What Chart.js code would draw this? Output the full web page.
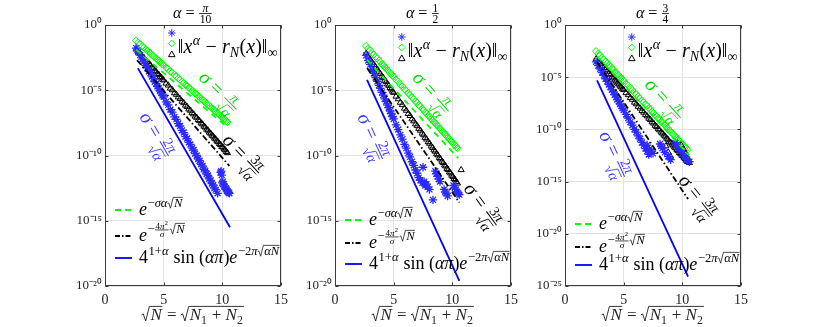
<!DOCTYPE html>
<html>
<head>
<meta charset="utf-8">
<script src="https://cdn.jsdelivr.net/npm/chart.js@4.4.0/dist/chart.umd.min.js"></script>
<style>
  html, body { margin: 0; padding: 0; background: #fff; }
  #wrap { position: relative; width: 817px; height: 327px; overflow: hidden; }
  canvas { position: absolute; top: 0; }
</style>
</head>
<body>
<div id="wrap">
  <canvas id="c1" width="270" height="327" style="left:30px"></canvas>
  <canvas id="c2" width="230" height="327" style="left:300px"></canvas>
  <canvas id="c3" width="287" height="327" style="left:530px"></canvas>
</div>
<script>
// sqrt(N) positions of the error samples (shared by all panels)
const sqrtN = [2.65, 2.83, 3.00, 3.16, 3.32, 3.46, 3.61, 3.74, 3.87, 4.00, 4.12, 4.24, 4.36, 4.47, 4.58, 4.69, 4.80, 4.90, 5.00, 5.20,
  5.39, 5.57, 5.74, 5.92, 6.08, 6.24, 6.40, 6.56, 6.71, 6.86, 7.00, 7.14, 7.28, 7.42, 7.55, 7.68, 7.81, 7.94, 8.06, 8.19,
  8.31, 8.43, 8.54, 8.66, 8.77, 8.89, 9.00, 9.11, 9.22, 9.33, 9.43, 9.54, 9.64, 9.75, 9.85, 9.95, 10.05, 10.15, 10.25, 10.34, 10.44];
const xTicks = [0, 5, 10, 15];

// log10 of the max error, alpha = pi/10
const logDiamond1 = [-1.20, -1.36, -1.46, -1.63, -1.72, -1.87, -1.95, -2.09, -2.16, -2.30, -2.36, -2.49, -2.55, -2.68, -2.72, -2.85, -2.90, -3.02, -3.06, -3.26,
  -3.37, -3.56, -3.65, -3.84, -3.92, -4.09, -4.18, -4.35, -4.43, -4.59, -4.66, -4.81, -4.88, -5.04, -5.10, -5.24, -5.31, -5.45, -5.51, -5.65,
  -5.71, -5.84, -5.89, -6.03, -6.08, -6.21, -6.26, -6.39, -6.44, -6.56, -6.60, -6.73, -6.77, -6.90, -6.94, -7.06, -7.10, -7.22, -7.26, -7.37, -7.43];
const logTriangle1 = [-1.85, -2.05, -2.19, -2.39, -2.51, -2.70, -2.81, -2.98, -3.07, -3.25, -3.33, -3.49, -3.57, -3.73, -3.80, -3.95, -4.02, -4.17, -4.23, -4.47,
  -4.62, -4.85, -4.98, -5.21, -5.33, -5.53, -5.66, -5.86, -5.97, -6.16, -6.27, -6.45, -6.55, -6.74, -6.83, -7.00, -7.09, -7.27, -7.35, -7.52,
  -7.60, -7.77, -7.84, -8.00, -8.07, -8.23, -8.31, -8.46, -8.53, -8.68, -8.75, -8.90, -8.96, -9.11, -9.17, -9.32, -9.38, -9.52, -9.58, -9.71, -9.80];
const logStar1 = [-1.77, -2.08, -2.31, -2.62, -2.82, -3.10, -3.28, -3.55, -3.69, -3.97, -4.09, -4.35, -4.48, -4.72, -4.83, -5.07, -5.18, -5.41, -5.50, -5.89,
  -6.12, -6.48, -6.68, -7.04, -7.23, -7.55, -7.74, -8.07, -8.24, -8.55, -8.70, -8.99, -9.15, -9.44, -9.58, -9.86, -10.00, -10.27, -10.40, -10.67,
  -10.80, -11.06, -11.16, -11.43, -11.53, -11.79, -11.90, -12.15, -12.25, -12.50, -12.62];
const starExtraX1 = [9.60, 9.85, 9.90, 9.95, 10.00, 10.05, 10.10, 10.15, 10.20, 10.30, 10.35, 10.40, 10.45, 10.50, 10.55, 10.60];
const logStarExtra1 = [-12.9, -11.3, -11.2, -11.5, -12.1, -12.0, -12.2, -12.35, -12.4, -12.5, -12.6, -12.7, -12.75, -12.8, -12.85, -12.9];
const greenX1 = [2.65, 10.5], greenY1 = [1.3e-2, 1.3e-8];
const blackX1 = [2.73, 10.6], blackY1 = [2e-3, 1.6e-11];
const blueX1 = [2.8, 10.65], blueY1 = [5e-4, 3.2e-16];

// log10 of the max error, alpha = 1/2
const logDiamond2 = [-1.61, -1.81, -1.94, -2.14, -2.26, -2.44, -2.55, -2.73, -2.82, -2.99, -3.07, -3.23, -3.31, -3.46, -3.53, -3.68, -3.75, -3.89, -3.95, -4.19,
  -4.34, -4.56, -4.70, -4.92, -5.04, -5.24, -5.36, -5.56, -5.67, -5.86, -5.96, -6.14, -6.24, -6.42, -6.51, -6.69, -6.78, -6.95, -7.03, -7.20,
  -7.28, -7.44, -7.51, -7.67, -7.74, -7.90, -7.97, -8.12, -8.19, -8.34, -8.40, -8.55, -8.61, -8.77, -8.83, -8.97, -9.03, -9.17, -9.23, -9.36, -9.44];
const logTriangle2 = [-2.20, -2.45, -2.63, -2.87, -3.03, -3.25, -3.40, -3.61, -3.74, -3.94, -4.05, -4.25, -4.36, -4.54, -4.64, -4.82, -4.92, -5.09, -5.18, -5.47,
  -5.67, -5.94, -6.12, -6.39, -6.55, -6.80, -6.96, -7.21, -7.36, -7.59, -7.73, -7.94, -8.08, -8.30, -8.43, -8.63, -8.76, -8.96, -9.08, -9.28,
  -9.40, -9.59, -9.69, -9.88, -9.98, -10.18, -10.28, -10.46, -10.56, -10.74, -10.82, -11.00, -11.09, -11.27, -11.36, -11.53, -11.62, -11.78, -11.87, -12.02, -12.13];
const triExtraX2 = [10.75];
const logTriExtra2 = [-11.1];
const logStar2 = [-2.33, -2.72, -3.04, -3.41, -3.70, -4.03, -4.31, -4.62, -4.85, -5.16, -5.37, -5.66, -5.87, -6.14, -6.32, -6.59, -6.78, -7.03, -7.20, -7.65,
  -8.01, -8.42, -8.74, -9.15, -9.44, -9.82, -10.11, -10.48, -10.75, -11.11, -11.36, -11.69];
const starExtraX2 = [7.28, 7.45, 7.50, 7.60, 7.70, 7.80, 7.90, 8.05, 8.35, 8.55, 8.65, 8.75, 8.85, 8.95, 9.30, 9.40, 9.50, 9.60,
  10.10, 10.20, 10.30, 10.40, 10.50, 10.60];
const logStarExtra2 = [-11.9, -12.1, -10.9, -12.0, -12.3, -12.2, -12.4, -12.6, -13.4, -11.2, -11.4, -11.6, -11.8, -12.0, -12.6, -12.8, -12.9, -13.1,
  -12.3, -12.5, -12.6, -12.8, -12.9, -13.0];
const greenX2 = [2.73, 10.5], greenY2 = [2.2e-3, 6.3e-11];
const blackX2 = [2.73, 10.6], blackY2 = [5e-4, 2.5e-14];
const blueX2 = [2.73, 10.6], blueY2 = [6.3e-5, 2.5e-20];

// log10 of the max error, alpha = 3/4
const logDiamond3 = [-2.51, -2.75, -2.91, -3.15, -3.30, -3.51, -3.65, -3.85, -3.97, -4.16, -4.27, -4.45, -4.56, -4.73, -4.83, -5.00, -5.09, -5.25, -5.33, -5.62,
  -5.81, -6.06, -6.23, -6.49, -6.64, -6.87, -7.03, -7.26, -7.40, -7.62, -7.75, -7.96, -8.09, -8.30, -8.42, -8.62, -8.73, -8.93, -9.04, -9.23,
  -9.34, -9.52, -9.62, -9.80, -9.90, -10.08, -10.17, -10.35, -10.44, -10.61, -10.69, -10.87, -10.95, -11.12, -11.20, -11.36, -11.44, -11.61, -11.69, -11.83, -11.94];
const logTriangle3 = [-3.27, -3.52, -3.69, -3.93, -4.09, -4.31, -4.46, -4.66, -4.79, -4.99, -5.10, -5.29, -5.40, -5.58, -5.68, -5.86, -5.96, -6.13, -6.21, -6.50,
  -6.70, -6.97, -7.14, -7.41, -7.57, -7.81, -7.98, -8.22, -8.37, -8.59, -8.73, -8.95, -9.08, -9.30, -9.42, -9.63, -9.75, -9.96, -10.07, -10.27,
  -10.38, -10.57, -10.67, -10.86, -10.96, -11.15, -11.25, -11.43, -11.53, -11.71, -11.79, -11.97, -12.06, -12.24, -12.32, -12.49, -12.57, -12.74, -12.83, -12.98, -13.09];
const triExtraX3 = [8.6, 8.8, 9.0, 9.9, 10.1, 10.3, 10.5, 10.6];
const logTriExtra3 = [-11.6, -12.2, -12.6, -11.5, -11.9, -12.3, -12.8, -13.2];
const logStar3 = [-3.53, -3.90, -4.20, -4.55, -4.83, -5.15, -5.40, -5.70, -5.91, -6.21, -6.41, -6.68, -6.88, -7.14, -7.31, -7.57, -7.75, -7.98, -8.14, -8.57,
  -8.91, -9.30, -9.60, -9.99, -10.27, -10.62, -10.90, -11.25, -11.51, -11.84, -12.08, -12.40];
const starExtraX3 = [7.0, 7.2, 7.35, 7.5, 8.1, 8.2, 8.3, 8.5, 8.8, 9.0, 9.4, 9.5, 9.6, 9.8, 10.0, 10.2, 10.4, 10.6];
const logStarExtra3 = [-11.5, -11.9, -12.1, -12.3, -11.4, -11.6, -11.8, -12.2, -12.6, -12.9, -11.3, -11.5, -11.7, -12.0, -12.3, -12.6, -12.9, -13.1];
const greenX3 = [2.73, 10.6], greenY3 = [1e-3, 3.2e-13];
const blackX3 = [2.73, 10.49], blackY3 = [2.9e-4, 2.1e-17];
const blueX3 = [2.73, 10.49], blueY3 = [5e-6, 7.9e-25];

const yTicks20 = [1, 1e-5, 1e-10, 1e-15, 1e-20];
const yTicks25 = [1, 1e-5, 1e-10, 1e-15, 1e-20, 1e-25];

const GREEN = '#00ff00', BLUE = '#0000ff', STARBLUE = '#2b2bff', NOTEBLUE = '#3c3cff';
const GRID = '#e3e3e3', AXIS = '#3a3a3a', TXT = '#262626';
const SERIF = '"Liberation Serif", "Times New Roman", serif';

const pairs = (xs, ys) => ys.map((y, i) => ({ x: xs[i], y }));
const logPairs = (xs, es) => es.map((e, i) => ({ x: xs[i], y: Math.pow(10, e) }));
const SUP = { '-': '⁻', '0': '⁰', '1': '¹', '2': '²', '3': '³', '4': '⁴', '5': '⁵', '6': '⁶', '7': '⁷', '8': '⁸', '9': '⁹' };
const supNum = n => String(n).split('').map(c => SUP[c]).join('');
const I = s => ({ i: s });

// tiny math-text renderer: strings upright, {i} italic, {sup}, {sub}, {sqrt}, {frac}
function rich(ctx, parts, x, y, size, draw) {
  let w = 0;
  for (const p of parts) {
    if (typeof p === 'string' || p.i !== undefined) {
      const txt = typeof p === 'string' ? p : p.i;
      ctx.font = (typeof p === 'string' ? '' : 'italic ') + size + 'px ' + SERIF;
      if (draw) ctx.fillText(txt, x + w, y);
      w += ctx.measureText(txt).width;
    } else if (p.sup) {
      w += rich(ctx, p.sup, x + w + size * 0.03, y - size * 0.42, size * 0.7, draw) + size * 0.05;
    } else if (p.sub) {
      w += rich(ctx, p.sub, x + w, y + size * 0.22, size * 0.7, draw) + size * 0.03;
    } else if (p.sqrt) {
      const rw = size * 0.52;
      const iw = rich(ctx, p.sqrt, x + w + rw, y, size, draw);
      if (draw) {
        const x0 = x + w;
        ctx.lineWidth = Math.max(0.7, size * 0.055);
        ctx.beginPath();
        ctx.moveTo(x0, y - size * 0.3);
        ctx.lineTo(x0 + size * 0.1, y - size * 0.36);
        ctx.lineTo(x0 + size * 0.24, y + size * 0.06);
        ctx.lineTo(x0 + size * 0.46, y - size * 0.8);
        ctx.lineTo(x0 + rw + iw + size * 0.03, y - size * 0.8);
        ctx.stroke();
      }
      w += rw + iw + size * 0.06;
    } else if (p.frac) {
      const fs = size * 0.72;
      const nw = rich(ctx, p.frac[0], 0, 0, fs, false);
      const dw = rich(ctx, p.frac[1], 0, 0, fs, false);
      const fw = Math.max(nw, dw) + size * 0.14;
      const ax = y - size * 0.28;
      const deep = p.frac[1].some(q => q && q.sqrt);
      if (draw) {
        rich(ctx, p.frac[0], x + w + (fw - nw) / 2, ax - size * 0.1, fs, true);
        rich(ctx, p.frac[1], x + w + (fw - dw) / 2, ax + size * 0.06 + fs * (deep ? 0.92 : 0.72), fs, true);
        ctx.lineWidth = Math.max(0.7, size * 0.05);
        ctx.beginPath();
        ctx.moveTo(x + w + size * 0.04, ax);
        ctx.lineTo(x + w + fw - size * 0.04, ax);
        ctx.stroke();
      }
      w += fw + size * 0.04;
    }
  }
  return w;
}

const normText = ['‖', I('x'), { sup: [I('α')] }, ' − ', I('r'), { sub: [I('N')] }, '(', I('x'), ')‖', { sub: ['∞'] }];
const legText = [
  [I('e'), { sup: ['−', I('σα'), { sqrt: [I('N')] }] }],
  [I('e'), { sup: ['−', { frac: [['4', I('π'), { sup: ['2'] }], [I('σ')]] }, { sqrt: [I('N')] }] }],
  ['4', { sup: ['1+', I('α')] }, ' sin', ' (', I('απ'), ')', I('e'), { sup: ['−2', I('π'), { sqrt: [I('αN')] }] }]
];
const xTitle = [{ sqrt: [I('N')] }, ' = ', { sqrt: [I('N'), { sub: ['1'] }, ' + ', I('N'), { sub: ['2'] }] }];
const sigmaNote = num => [I('σ'), ' = ', { frac: [[num, I('π')], [{ sqrt: [I('α')] }]] }];

function marker(ctx, style, cx, cy, r) {
  ctx.beginPath();
  if (style === 'rectRot') {
    ctx.moveTo(cx, cy - r); ctx.lineTo(cx + r, cy); ctx.lineTo(cx, cy + r); ctx.lineTo(cx - r, cy); ctx.closePath();
  } else if (style === 'triangle') {
    ctx.moveTo(cx, cy - r); ctx.lineTo(cx + r * 0.9, cy + r * 0.6); ctx.lineTo(cx - r * 0.9, cy + r * 0.6); ctx.closePath();
  } else {
    for (let k = 0; k < 4; k++) {
      const a = k * Math.PI / 4;
      ctx.moveTo(cx - r * Math.cos(a), cy - r * Math.sin(a));
      ctx.lineTo(cx + r * Math.cos(a), cy + r * Math.sin(a));
    }
  }
  ctx.stroke();
}

function decor(p) {
  return {
    id: 'decor',
    afterDraw(chart) {
      const { ctx, chartArea: a } = chart;
      const sx = chart.scales.x, sy = chart.scales.y;
      ctx.save();
      ctx.textAlign = 'left';
      ctx.textBaseline = 'alphabetic';

      // box with inward ticks
      ctx.strokeStyle = AXIS;
      ctx.lineWidth = 1;
      const L = Math.round(a.left) + 0.5, R = Math.round(a.right) - 0.5, T = Math.round(a.top) + 0.5, B = Math.round(a.bottom) - 0.5;
      ctx.strokeRect(L, T, R - L, B - T);
      ctx.beginPath();
      xTicks.forEach(v => {
        const px = Math.round(sx.getPixelForValue(v)) + 0.5;
        ctx.moveTo(px, B); ctx.lineTo(px, B - 3);
        ctx.moveTo(px, T); ctx.lineTo(px, T + 3);
      });
      p.yTicks.forEach(v => {
        const py = Math.round(sy.getPixelForValue(v)) + 0.5;
        ctx.moveTo(L, py); ctx.lineTo(L + 3, py);
        ctx.moveTo(R, py); ctx.lineTo(R - 3, py);
      });
      ctx.stroke();

      // title and x-axis title
      ctx.fillStyle = ctx.strokeStyle = '#000';
      const cx = (a.left + a.right) / 2;
      let w = rich(ctx, p.title, 0, 0, 16, false);
      rich(ctx, p.title, cx - w / 2, 18, 16, true);
      ctx.fillStyle = ctx.strokeStyle = TXT;
      w = rich(ctx, xTitle, 0, 0, 17, false);
      rich(ctx, xTitle, cx - w / 2, 320, 17, true);

      // rotated sigma annotations
      p.notes.forEach(n => {
        const px = sx.getPixelForValue(n.x), py = sy.getPixelForValue(n.y);
        const parts = sigmaNote(n.num);
        ctx.fillStyle = ctx.strokeStyle = n.color;
        const nw = rich(ctx, parts, 0, 0, 20, false);
        ctx.save();
        ctx.translate(px, py);
        ctx.rotate(n.angle * Math.PI / 180);
        rich(ctx, parts, -nw / 2, 6, 20, true);
        ctx.restore();
      });

      // marker legend (top right)
      ctx.fillStyle = ctx.strokeStyle = '#000';
      w = rich(ctx, normText, 0, 0, 20, false);
      const tx = a.right - 3 - w, ty = a.top + p.legTop;
      rich(ctx, normText, tx, ty + 20, 20, true);
      ctx.lineWidth = 1;
      ctx.strokeStyle = STARBLUE; marker(ctx, 'star', tx - 6, ty, 3.8);
      ctx.strokeStyle = GREEN; marker(ctx, 'rectRot', tx - 6, ty + 10.5, 3.4);
      ctx.strokeStyle = '#000'; marker(ctx, 'triangle', tx - 6, ty + 21.5, 3.6);

      // line legend (bottom left)
      const styles = [[GREEN, [6, 4]], ['#000', [5, 2, 1.5, 2]], [BLUE, []]];
      styles.forEach((s, k) => {
        const ry = a.top + p.legRows[k];
        ctx.strokeStyle = s[0];
        ctx.lineWidth = 1.8;
        ctx.setLineDash(s[1]);
        ctx.beginPath(); ctx.moveTo(a.left + 10, ry); ctx.lineTo(a.left + 27, ry); ctx.stroke();
        ctx.setLineDash([]);
        ctx.fillStyle = ctx.strokeStyle = '#000';
        rich(ctx, legText[k], a.left + 34, ry + 5, 18, true);
      });
      ctx.restore();
    }
  };
}

function makePanel(p) {
  const markerSet = (data, style, color, r, bw, order) => ({
    data, showLine: false, pointStyle: style, pointRadius: r, pointBorderWidth: bw,
    borderColor: color, backgroundColor: 'rgba(0,0,0,0)', order
  });
  const lineSet = (data, color, dash, order) => ({
    data, showLine: true, borderColor: color, borderWidth: 1.8, borderDash: dash, pointRadius: 0, order
  });
  new Chart(document.getElementById(p.id), {
    type: 'scatter',
    data: {
      datasets: [
        lineSet(pairs(p.blueX, p.blueY), BLUE, [], 0),
        lineSet(pairs(p.blackX, p.blackY), '#000', [6, 2.5, 1.5, 2.5], 0),
        lineSet(pairs(p.greenX, p.greenY), GREEN, [6, 5], 0),
        markerSet(logPairs(sqrtN, p.star).concat(logPairs(p.starExtraX, p.starExtra)), 'star', STARBLUE, 4.2, 1.3, 1),
        markerSet(logPairs(sqrtN, p.triangle).concat(logPairs(p.triExtraX, p.triExtra)), 'triangle', '#000', 3.5, 1, 2),
        markerSet(logPairs(sqrtN, p.diamond), 'rectRot', GREEN, 3.6, 1, 3)
      ]
    },
    options: {
      responsive: false,
      animation: false,
      events: [],
      layout: { padding: { left: p.padLeft, top: 25, right: p.padRight, bottom: 0 } },
      plugins: { legend: { display: false }, tooltip: { enabled: false } },
      scales: {
        x: {
          type: 'linear', min: 0, max: 15,
          afterFit: s => { s.height = 41; },
          afterBuildTicks: s => { s.ticks = xTicks.map(v => ({ value: v })); },
          ticks: { autoSkip: false, maxRotation: 0, padding: 6, color: TXT, font: { family: SERIF, size: 14 } },
          grid: { color: GRID, drawTicks: false },
          border: { display: false }
        },
        y: {
          type: 'logarithmic', min: p.yTicks[p.yTicks.length - 1], max: 1,
          afterFit: s => { s.width = 35; },
          afterBuildTicks: s => { s.ticks = p.yTicks.map(v => ({ value: v })); },
          ticks: {
            autoSkip: false, padding: 3, color: TXT, font: { family: SERIF, size: 13 },
            callback: v => '10' + supNum(Math.round(Math.log10(v)))
          },
          grid: { color: GRID, drawTicks: false },
          border: { display: false }
        }
      }
    },
    plugins: [decor(p)]
  });
}

makePanel({
  id: 'c1', padLeft: 40, padRight: 19, yTicks: yTicks20,
  title: [I('α'), ' = ', { frac: [[I('π')], ['10']] }],
  diamond: logDiamond1, triangle: logTriangle1, triExtraX: [], triExtra: [],
  star: logStar1, starExtraX: starExtraX1, starExtra: logStarExtra1,
  greenX: greenX1, greenY: greenY1, blackX: blackX1, blackY: blackY1, blueX: blueX1, blueY: blueY1,
  legTop: 8, legRows: [185, 211, 233],
  notes: [
    { x: 9.8, y: 7e-6, angle: 45, color: '#00dd00', num: '' },
    { x: 4.43, y: 3.5e-9, angle: 60, color: NOTEBLUE, num: '2' },
    { x: 11.77, y: 1e-10, angle: 47, color: '#000', num: '3' }
  ]
});
makePanel({
  id: 'c2', padLeft: 0, padRight: 19, yTicks: yTicks20,
  title: [I('α'), ' = ', { frac: [['1'], ['2']] }],
  diamond: logDiamond2, triangle: logTriangle2, triExtraX: triExtraX2, triExtra: logTriExtra2,
  star: logStar2, starExtraX: starExtraX2, starExtra: logStarExtra2,
  greenX: greenX2, greenY: greenY2, blackX: blackX2, blackY: blackY2, blueX: blueX2, blueY: blueY2,
  legTop: 12, legRows: [195, 218, 239],
  notes: [
    { x: 8.35, y: 5.9e-6, angle: 48, color: '#00dd00', num: '' },
    { x: 3.24, y: 2.5e-9, angle: 65, color: NOTEBLUE, num: '2' },
    { x: 12.6, y: 1.4e-14, angle: 54, color: '#000', num: '3' }
  ]
});
makePanel({
  id: 'c3', padLeft: 0, padRight: 76, yTicks: yTicks25,
  title: [I('α'), ' = ', { frac: [['3'], ['4']] }],
  diamond: logDiamond3, triangle: logTriangle3, triExtraX: triExtraX3, triExtra: logTriExtra3,
  star: logStar3, starExtraX: starExtraX3, starExtra: logStarExtra3,
  greenX: greenX3, greenY: greenY3, blackX: blackX3, blackY: blackY3, blueX: blueX3, blueY: blueY3,
  legTop: 12, legRows: [199, 222, 240],
  notes: [
    { x: 8.53, y: 6.6e-8, angle: 48, color: '#00dd00', num: '' },
    { x: 4.26, y: 3.5e-13, angle: 65, color: NOTEBLUE, num: '2' },
    { x: 11.34, y: 3.3e-17, angle: 52, color: '#000', num: '3' }
  ]
});
</script>
</body>
</html>
